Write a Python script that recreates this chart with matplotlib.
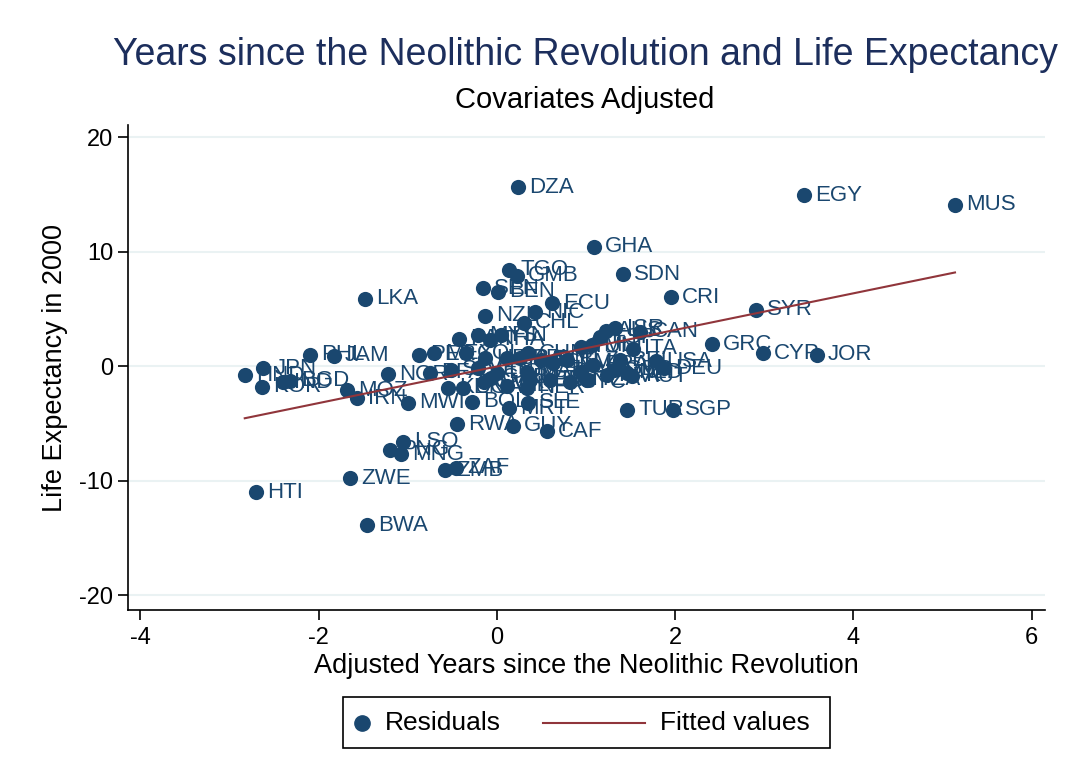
import numpy as np
import matplotlib
matplotlib.use("Agg")
import matplotlib.pyplot as plt
from matplotlib.lines import Line2D
from matplotlib.patches import Rectangle

plt.rcParams['font.family'] = ['Liberation Sans', 'DejaVu Sans']
plt.rcParams['axes.unicode_minus'] = False

labels = ["DZA", "EGY", "MUS", "GHA", "TGO", "GMB", "SDN", "CRI", "SYR", "LKA",
          "SEN", "BEN", "ECU", "NZL", "NIC", "CHL", "GRC", "CYP", "JOR", "ITA",
          "USA", "DEU", "AUS", "ISR", "CAN", "ESP", "TUR", "SGP", "CAF", "GUY",
          "RWA", "SLE", "MRT", "BOL", "MWI", "IRN", "MOZ", "NOR", "PHL", "JAM",
          "JPN", "HND", "KOR", "IND", "BGD", "HTI", "LSO", "PNG", "MNG", "ZWE",
          "ZMB", "ZAF", "BWA", "PER", "MEX", "PAN", "MYS", "THA", "FIN", "COL",
          "BRA", "PRY", "URY", "VEN", "SLV", "DOM", "MAR", "BFA", "KEN", "UGA",
          "CMR", "MLI", "NER", "GAB", "TUN", "MLT", "CHN", "IDN", "GTM", "BLZ",
          "ARG", "FRA", "GBR", "NLD", "LBR", "BDI", "SYC", "TZA", "PAK", "AUT",
          "BEL"]

x_vals = [0.24, 3.45, 5.14, 1.09, 0.14, 0.22, 1.41, 1.95, 2.91, -1.48,
          -0.16, 0.01, 0.62, -0.13, 0.43, 0.30, 2.41, 2.98, 3.59, 1.53,
          1.78, 1.88, 1.22, 1.33, 1.61, 1.16, 1.46, 1.98, 0.56, 0.18,
          -0.45, 0.35, 0.13, -0.28, -1.00, -1.57, -1.68, -1.22, -2.10, -1.83,
          -2.62, -2.83, -2.64, -2.40, -2.32, -2.70, -1.05, -1.20, -1.08, -1.65,
          -0.58, -0.46, -1.46, -0.88, -0.71, -0.43, -0.21, -0.08, 0.04, -0.35,
          0.11, 0.26, -0.13, -0.21, -0.52, 0.00, 0.34, -0.75, -0.55, -0.38,
          -0.15, 0.11, 0.34, -0.07, 0.94, 1.07, 0.35, 0.49, 0.63, 0.79,
          0.94, 1.08, 1.31, 1.46, 0.37, 0.60, 0.82, 1.01, 1.24, 1.52,
          1.38]

y_vals = [15.6, 14.9, 14.1, 10.4, 8.4, 7.9, 8.0, 6.0, 4.9, 5.9,
          6.8, 6.5, 5.5, 4.4, 4.7, 3.8, 1.9, 1.1, 1.0, 1.5,
          0.4, -0.2, 3.1, 3.3, 3.0, 2.5, -3.8, -3.8, -5.7, -5.2,
          -5.1, -3.2, -3.7, -3.1, -3.2, -2.8, -2.1, -0.7, 1.0, 0.9,
          -0.2, -0.8, -1.8, -1.4, -1.3, -11.0, -6.6, -7.3, -7.7, -9.8,
          -9.1, -8.9, -13.9, 1.0, 1.1, 2.4, 2.7, 2.3, 2.7, 1.1,
          0.7, 0.7, 0.7, -0.2, -0.3, -0.6, -0.5, -0.6, -1.9, -1.9,
          -1.4, -1.7, -1.9, -1.0, 1.7, 1.8, 1.1, 0.5, 0.3, 0.5,
          -0.5, 0.1, -0.3, -0.6, -1.2, -1.2, -1.4, -1.2, -0.8, -0.9,
          0.5]

x_ticks = [-4, -2, 0, 2, 4, 6]
y_ticks = [-20, -10, 0, 10, 20]

title = "Years since the Neolithic Revolution and Life Expectancy"
subtitle = "Covariates Adjusted"
xlabel = "Adjusted Years since the Neolithic Revolution"
ylabel = "Life Expectancy in 2000"
legend_labels = ["Residuals", "Fitted values"]

navy = "#1a476f"
maroon = "#90353b"

x = np.array(x_vals)
y = np.array(y_vals)

W, H = 1068, 782
fig = plt.figure(figsize=(W / 100, H / 100), dpi=100)
ax = fig.add_axes([128 / W, 1 - 610 / H, (1045 - 128) / W, (610 - 125) / H])

ax.set_xlim(-4.14, 6.15)
ax.set_ylim(-21.3, 21.05)

for yt in y_ticks:
    ax.axhline(yt, color="#eaf2f3", lw=1.5, zorder=0)

ax.scatter(x, y, s=120, color=navy, edgecolors=navy, linewidths=0, zorder=3)
for xi, yi, lb in zip(x, y, labels):
    ax.annotate(lb, (xi, yi), xytext=(8, 0), textcoords="offset points",
                va="center", ha="left", fontsize=16, color=navy, zorder=4)

b, a = np.polyfit(x, y, 1)
fx = np.array([x.min(), x.max()])
ax.plot(fx, a + b * fx, color=maroon, lw=1.5, zorder=5)

for s in ["top", "right"]:
    ax.spines[s].set_visible(False)
for s in ["left", "bottom"]:
    ax.spines[s].set_color("black")
    ax.spines[s].set_linewidth(1.2)

ax.set_xticks(x_ticks)
ax.set_yticks(y_ticks)
ax.tick_params(axis="both", direction="out", length=7, width=1.2, labelsize=17,
               colors="black")
ax.tick_params(axis="x", pad=5)
ax.set_xlabel(xlabel, fontsize=19.5, labelpad=3)
ax.set_ylabel(ylabel, fontsize=19.5, labelpad=8)

fig.text(585.5 / W, 1 - 55 / H, title, ha="center", va="center", fontsize=27,
         color="#1c2e5c")
fig.text(585 / W, 1 - 100 / H, subtitle, ha="center", va="center", fontsize=21,
         color="black")

# legend drawn manually in figure pixel coordinates
def fx_(px):
    return px / W

def fy_(py):
    return 1 - py / H

fig.patches.append(Rectangle((fx_(343), fy_(748)), fx_(830) - fx_(343),
                             fy_(697) - fy_(748), transform=fig.transFigure,
                             fill=False, edgecolor="black", lw=1.2))
fig.lines.append(Line2D([fx_(362)], [fy_(723)], marker="o", ls="none",
                        color=navy, markersize=11, transform=fig.transFigure))
fig.text(fx_(385), fy_(723), legend_labels[0], ha="left", va="center",
         fontsize=19, color="black")
fig.lines.append(Line2D([fx_(543), fx_(645)], [fy_(723), fy_(723)],
                        color=maroon, lw=1.5, transform=fig.transFigure))
fig.text(fx_(660), fy_(723), legend_labels[1], ha="left", va="center",
         fontsize=19, color="black")

fig.savefig("out.png", dpi=100, facecolor="white")
